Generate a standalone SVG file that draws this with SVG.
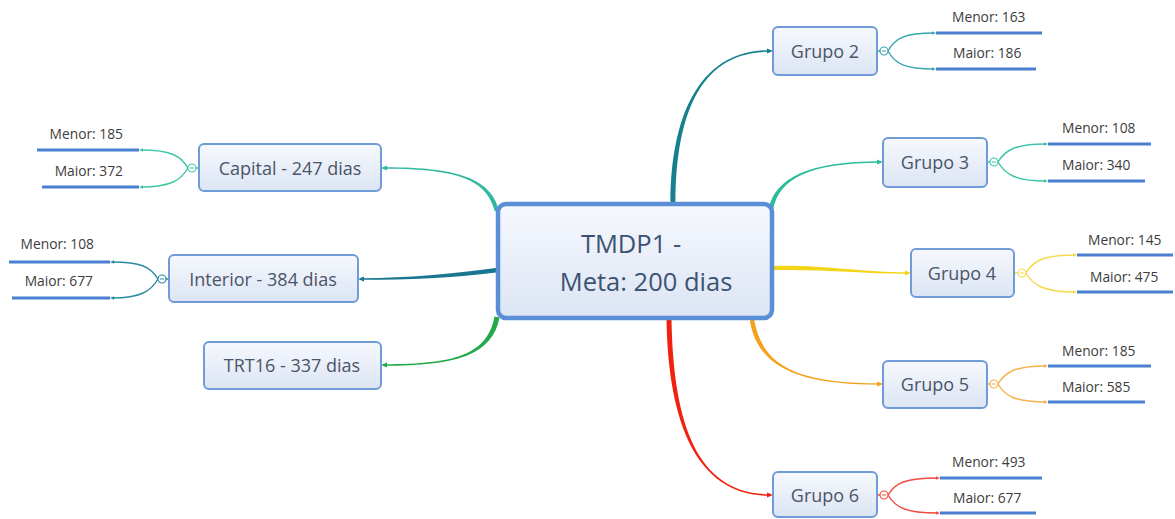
<svg xmlns="http://www.w3.org/2000/svg" width="1175" height="519" viewBox="0 0 1175 519">
<defs>
<linearGradient id="nodeFill" x1="0" y1="0" x2="0" y2="1">
<stop offset="0" stop-color="#f6f8fd"/>
<stop offset="1" stop-color="#dce5f4"/>
</linearGradient>
<style>
.node rect{fill:url(#nodeFill);stroke:#6f9bd9;stroke-width:2}
.node text{font-family:"Open Sans","Noto Sans",sans-serif;font-size:18px;fill:#4a5568;text-anchor:middle;dominant-baseline:central}
.central rect{stroke:#5a8fd8;stroke-width:4.5}
.central text{font-size:25.5px;fill:#3d5272}
.lbl{font-family:"Open Sans","Noto Sans",sans-serif;font-size:13.8px;fill:#3d3d3d}
.bar{stroke:#4a7fd0;stroke-width:3;fill:none}
.sub{fill:none;stroke-width:1.4}
.col{fill:#fff;stroke-width:1.2}
</style>
</defs>
<rect width="1175" height="519" fill="#fff"/>
<g id="connectors">
<path fill="#16808f" d="M675.5,204 C675.5,115 700,51.8 769,51.8 L769,50.2 C700,50.2 670.5,115 670.5,204 Z"/>
<polygon fill="#16808f" points="767,48.6 773,51 767,53.4"/>
<path fill="#2cbb9c" d="M773.2,209.4 C779.2,178.4 810,162.8 880,162.8 L880,161.2 C810,161.2 774.8,177.6 768.8,208.6 Z"/>
<polygon fill="#2cbb9c" points="877,159.6 883,162 877,164.4"/>
<path fill="#f3d416" d="M773,270.2 C825,269.2 860,273.8 908,273.8 L908,272.2 C860,272.2 825,264.8 773,265.8 Z"/>
<polygon fill="#f3d416" points="905,270.6 911,273 905,275.4"/>
<path fill="#f4a21e" d="M749.8,320.4 C757.8,368.4 800,384.8 880,384.8 L880,383.2 C800,383.2 762.2,367.6 754.2,319.6 Z"/>
<polygon fill="#f4a21e" points="877,381.6 883,384 877,386.4"/>
<path fill="#f0220f" d="M666.5,320 C668.5,430 700,495.8 770,495.8 L770,494.2 C700,494.2 673.5,430 671.5,320 Z"/>
<polygon fill="#f0220f" points="767,492.6 773,495 767,497.4"/>
<path fill="#2fb89f" d="M499.1,210.5 C491.1,179.5 460,167.2 385,167.2 L385,168.8 C460,168.8 486.9,180.5 494.9,211.5 Z"/>
<polygon fill="#2fb89f" points="387,165.6 381,168 387,170.4"/>
<path fill="#1a7590" d="M497.7,267.8 C449.7,273.8 410,278.2 361,278.2 L361,279.8 C410,279.8 450.3,278.2 498.3,272.2 Z"/>
<polygon fill="#1a7590" points="364,276.6 358,279 364,281.4"/>
<path fill="#22a94a" d="M494.5,316.5 C487.5,354.5 455,364.2 385,364.2 L385,365.8 C455,365.8 492.5,355.5 499.5,317.5 Z"/>
<polygon fill="#22a94a" points="387,362.6 381,365 387,367.4"/>

<g stroke="#3aa5b0" fill="#3aa5b0">
<path class="sub" d="M877,51 L880,51 M888,51 C895,38 905,33 934,33 M888,51 C895,64 905,69 934,69"/>
<polygon stroke="none" points="932,31.2 936,33 932,34.8"/><polygon stroke="none" points="932,67.2 936,69 932,70.8"/>
<circle class="col" cx="884" cy="51" r="4"/><line x1="882" y1="51" x2="886" y2="51" stroke-width="1"/>
</g>
<g stroke="#3cc4a6" fill="#3cc4a6">
<path class="sub" d="M987,162 L990,162 M998,162 C1005,150 1015,144 1046,144 M998,162 C1005,174 1015,181 1046,181"/>
<polygon stroke="none" points="1044,142.2 1048,144 1044,145.8"/><polygon stroke="none" points="1044,179.2 1048,181 1044,182.8"/>
<circle class="col" cx="994" cy="162" r="4"/><line x1="992" y1="162" x2="996" y2="162" stroke-width="1"/>
</g>
<g stroke="#f5d94a" fill="#f5d94a">
<path class="sub" d="M1014,273 L1018,273 M1026,273 C1033,261 1043,255 1075,255 M1026,273 C1033,285 1043,292 1075,292"/>
<polygon stroke="none" points="1073,253.2 1077,255 1073,256.8"/><polygon stroke="none" points="1073,290.2 1077,292 1073,293.8"/>
<circle class="col" cx="1022" cy="273" r="4"/><line x1="1020" y1="273" x2="1024" y2="273" stroke-width="1"/>
</g>
<g stroke="#f5b24c" fill="#f5b24c">
<path class="sub" d="M987,384 L990,384 M998,384 C1005,372 1015,366 1046,366 M998,384 C1005,396 1015,402 1046,402"/>
<polygon stroke="none" points="1044,364.2 1048,366 1044,367.8"/><polygon stroke="none" points="1044,400.2 1048,402 1044,403.8"/>
<circle class="col" cx="994" cy="384" r="4"/><line x1="992" y1="384" x2="996" y2="384" stroke-width="1"/>
</g>
<g stroke="#f04b40" fill="#f04b40">
<path class="sub" d="M877,495 L880,495 M888,495 C895,483 905,478 938,478 M888,495 C895,507 905,513 938,513"/>
<polygon stroke="none" points="936,476.2 940,478 936,479.8"/><polygon stroke="none" points="936,511.2 940,513 936,514.8"/>
<circle class="col" cx="884" cy="495" r="4"/><line x1="882" y1="495" x2="886" y2="495" stroke-width="1"/>
</g>
<g stroke="#40c6a8" fill="#40c6a8">
<path class="sub" d="M199,168 L196,168 M188,168 C181,156 171,150 141,150 M188,168 C181,180 171,187 141,187"/>
<polygon stroke="none" points="143,148.2 139,150 143,151.8"/><polygon stroke="none" points="143,185.2 139,187 143,188.8"/>
<circle class="col" cx="192" cy="168" r="4"/><line x1="190" y1="168" x2="194" y2="168" stroke-width="1"/>
</g>
<g stroke="#2b8ba2" fill="#2b8ba2">
<path class="sub" d="M169,279 L166,279 M158,279 C151,267 141,262 112,262 M158,279 C151,291 141,298 112,298"/>
<polygon stroke="none" points="114,260.2 110,262 114,263.8"/><polygon stroke="none" points="114,296.2 110,298 114,299.8"/>
<circle class="col" cx="162" cy="279" r="4"/><line x1="160" y1="279" x2="164" y2="279" stroke-width="1"/>
</g>

<path class="bar" d="M936,33 H1042 M936,69 H1036 M1048,144 H1151 M1048,181 H1145 M1077,255 H1173 M1077,292 H1173 M1048,366 H1151 M1048,402 H1145 M940,478 H1042 M940,513 H1036 M37,150 H139 M42,187 H139 M9,262 H110 M12,298 H110"/>
</g>

<g id="leaves">
<text class="lbl" x="952" y="22">Menor: 163</text>
<text class="lbl" x="953" y="58">Maior: 186</text>
<text class="lbl" x="1062" y="133">Menor: 108</text>
<text class="lbl" x="1062" y="170">Maior: 340</text>
<text class="lbl" x="1088" y="245">Menor: 145</text>
<text class="lbl" x="1090" y="282">Maior: 475</text>
<text class="lbl" x="1062" y="356">Menor: 185</text>
<text class="lbl" x="1062" y="392">Maior: 585</text>
<text class="lbl" x="952" y="467">Menor: 493</text>
<text class="lbl" x="953" y="503">Maior: 677</text>
<text class="lbl" x="123" y="139" text-anchor="end">Menor: 185</text>
<text class="lbl" x="123" y="176" text-anchor="end">Maior: 372</text>
<text class="lbl" x="94" y="249" text-anchor="end">Menor: 108</text>
<text class="lbl" x="93" y="286" text-anchor="end">Maior: 677</text>
</g>

<g id="central" class="node central">
<rect x="498" y="204" width="274" height="114" rx="8"/>
<text x="631" y="243">TMDP1 -</text>
<text x="646" y="281">Meta: 200 dias</text>
</g>
<g id="grupo2" class="node"><rect x="773" y="27" width="104" height="48" rx="5"/><text x="825" y="51">Grupo 2</text></g>
<g id="grupo3" class="node"><rect x="883" y="138" width="104" height="49" rx="5"/><text x="935" y="162">Grupo 3</text></g>
<g id="grupo4" class="node"><rect x="911" y="249" width="103" height="48" rx="5"/><text x="962" y="273">Grupo 4</text></g>
<g id="grupo5" class="node"><rect x="883" y="361" width="104" height="47" rx="5"/><text x="935" y="384">Grupo 5</text></g>
<g id="grupo6" class="node"><rect x="773" y="472" width="104" height="45" rx="5"/><text x="825" y="495">Grupo 6</text></g>
<g id="capital" class="node"><rect x="199" y="144" width="182" height="47" rx="5"/><text x="290" y="168">Capital - 247 dias</text></g>
<g id="interior" class="node"><rect x="169" y="255" width="189" height="47" rx="5"/><text x="263" y="279">Interior - 384 dias</text></g>
<g id="trt16" class="node"><rect x="204" y="342" width="177" height="47" rx="5"/><text x="292" y="365">TRT16 - 337 dias</text></g>
</svg>
